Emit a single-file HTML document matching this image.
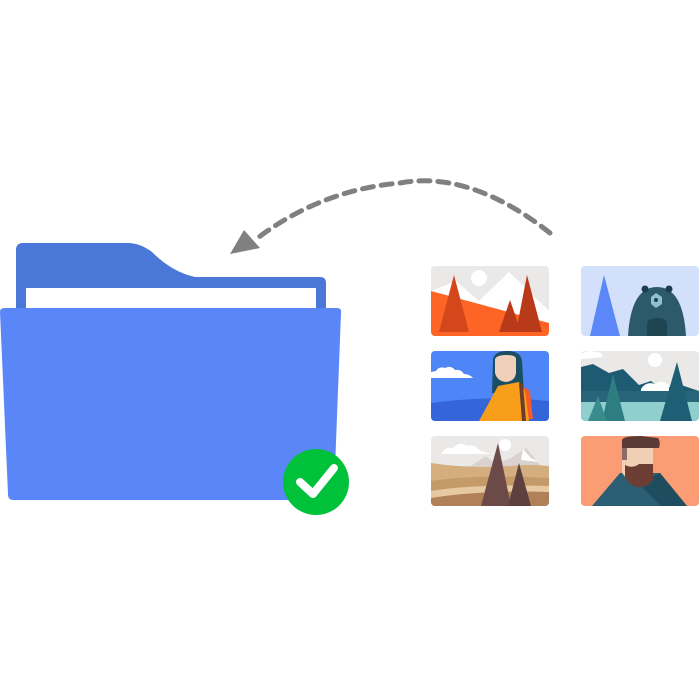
<!DOCTYPE html>
<html><head><style>html,body{margin:0;padding:0;background:#fff}svg{display:block}</style></head>
<body>
<svg width="700" height="700" viewBox="0 0 700 700" xmlns="http://www.w3.org/2000/svg">
<defs>
<clipPath id="c"><rect x="0" y="0" width="118" height="70" rx="4"/></clipPath>
</defs>
<!-- arrow -->
<path d="M550,233 Q470,170 400,183 Q320,190 255,240" fill="none" stroke="#808080" stroke-width="5" stroke-dasharray="11,8" stroke-linecap="round"/>
<polygon points="244,230 230,254 260,248" fill="#808080"/>
<!-- folder -->
<path d="M16,250 Q16,243 23,243 L128,243 Q140,243 152,252 Q172,272 195,277 L320,277 Q326,277 326,283 L326,320 L16,320 Z" fill="#4a78d8"/>
<rect x="26" y="288" width="290" height="25" fill="#fff"/>
<path d="M0,312 Q0,308 5,308 L337,308 Q342,308 341,313 L334,494 Q334,500 328,500 L13,500 Q8,500 8,494 Z" fill="#5b86f8"/>
<circle cx="316" cy="482" r="33" fill="#00c13a"/>
<polyline points="300,482 313,494 334,468" fill="none" stroke="#fff" stroke-width="8" stroke-linecap="round" stroke-linejoin="round"/>
<!-- card1 -->
<g transform="translate(431,266)" clip-path="url(#c)">
<rect width="118" height="70" fill="#ebe9e7"/>
<circle cx="48" cy="12" r="8" fill="#fff"/>
<polygon points="0,25 25,15 48,35 78,6 118,45 118,70 0,70" fill="#fff"/>
<polygon points="0,25 118,57 118,70 0,70" fill="#fd6426"/>
<polygon points="23,9 8,66 38,66" fill="#d4471a"/>
<polygon points="79,34 68,66 90,66" fill="#b83a18"/>
<polygon points="96,9 85,66 111,66" fill="#b83a18"/>
</g>
<!-- card2 -->
<g transform="translate(581,266)" clip-path="url(#c)">
<rect width="118" height="70" fill="#d3e0fc"/>
<polygon points="23,9 9,70 39,70" fill="#5b87f8"/>
<path d="M47,70 Q50,21 76,21 Q102,21 105,70 Z" fill="#2c5a6b"/>
<circle cx="64" cy="23" r="3.5" fill="#1b3e4c"/><circle cx="88" cy="23" r="3.5" fill="#1b3e4c"/>
<polygon points="70,31 75,27 81,31 81,38 75,42 70,38" fill="#8fc0cf"/>
<circle cx="75" cy="34" r="2" fill="#1b3e4c"/>
<path d="M66,70 L66,58 Q66,52 76,52 Q86,52 86,58 L86,70 Z" fill="#1f4553"/>
</g>
<!-- card3 -->
<g transform="translate(431,351)" clip-path="url(#c)">
<rect width="118" height="70" fill="#4f86f7"/>
<path d="M0,52 Q60,44 118,50 L118,70 L0,70 Z" fill="#3466d9"/>
<path d="M0,27 L42,27 Q38,23 33,23 Q30,18 24,19 Q20,14 14,17 Q8,15 5,20 L0,21 Z" fill="#fff"/>
<path d="M61,42 L62,8 Q64,0 76,0 Q90,0 91,10 L93,42 Z" fill="#1a4f63"/>
<path d="M64,8 Q66,4 75,4 Q85,4 85,8 L85,22 Q84,30 75,31 Q66,30 64,22 Z" fill="#f0d0bb"/>
<polygon points="88,33 99,40 102,68 86,68" fill="#f55a2a"/>
<polygon points="67,35 88,31 94,40 98,70 48,70" fill="#f99e1a"/>
<polygon points="88,32 92,33 95,70 91,70" fill="#6b3d2a"/>
</g>
<!-- card4 -->
<g transform="translate(581,351)" clip-path="url(#c)">
<rect width="118" height="70" fill="#ebe9e7"/>
<circle cx="74" cy="9" r="7" fill="#fff"/>
<path d="M0,4 Q6,-2 14,1 Q20,0 22,6 L0,8 Z" fill="#fff"/>
<polygon points="0,16 12,13 28,22 42,18 58,34 70,30 80,38 100,34 118,40 118,52 0,52" fill="#1f5a73"/>
<path d="M60,38 Q65,30 74,33 Q80,28 88,34 L88,40 L60,40 Z" fill="#fff"/>
<rect x="0" y="40" width="118" height="12" fill="#2f6d80" opacity=".6"/>
<rect x="0" y="51" width="118" height="19" fill="#8fcfcd"/>
<polygon points="32,23 21,70 44,70" fill="#2e7d80"/>
<polygon points="17,45 7,70 26,70" fill="#3a8c8c"/>
<polygon points="96,11 79,70 111,70" fill="#1e5f75"/>
</g>
<!-- card5 -->
<g transform="translate(431,436)" clip-path="url(#c)">
<rect width="118" height="70" fill="#ebe9e7"/>
<path d="M10,18 Q14,10 22,12 Q28,5 36,10 Q44,8 48,14 L60,18 Z" fill="#fff"/>
<circle cx="74" cy="9" r="6" fill="#fff"/>
<polygon points="40,30 55,20 65,28 80,22 95,12 110,30 118,30 118,45 0,45 0,32" fill="#d9d2cf"/>
<polygon points="92,13 100,22 108,26 90,24" fill="#fff"/>
<path d="M0,27 Q40,33 80,30 Q100,28 118,30 L118,70 L0,70 Z" fill="#d4ae7e"/>
<path d="M0,45 Q50,38 118,42 L118,70 L0,70 Z" fill="#c49a68"/>
<path d="M0,55 Q40,48 118,50 L118,56 Q50,54 0,62 Z" fill="#e6c9a0"/>
<path d="M0,62 Q50,54 118,56 L118,70 L0,70 Z" fill="#b08058"/>
<polygon points="67,7 50,70 80,70" fill="#6b4a48"/>
<polygon points="88,27 77,70 100,70" fill="#5e403e"/>
</g>
<!-- card6 -->
<g transform="translate(581,436)" clip-path="url(#c)">
<rect width="118" height="70" fill="#fb9c74"/>
<polygon points="39,37 79,37 106,70 11,70" fill="#2b5e72"/>
<polygon points="58,48 79,37 106,70 80,70" fill="#1f4d60"/>
<path d="M41,8 L72,8 L72,40 Q66,46 56,46 Q44,44 41,36 Z" fill="#f0cfb4"/>
<path d="M44,29 Q52,33 58,28 L72,28 L72,44 Q66,52 56,51 Q46,48 44,40 Z" fill="#6b3d33"/>
<path d="M41,4 Q42,0 60,0 L77,2 Q80,6 78,12 L45,12 L45,24 L41,24 Z" fill="#5c3a35"/>
<rect x="41" y="12" width="5" height="12" fill="#8a6c68"/>
</g>
</svg>
</body></html>
